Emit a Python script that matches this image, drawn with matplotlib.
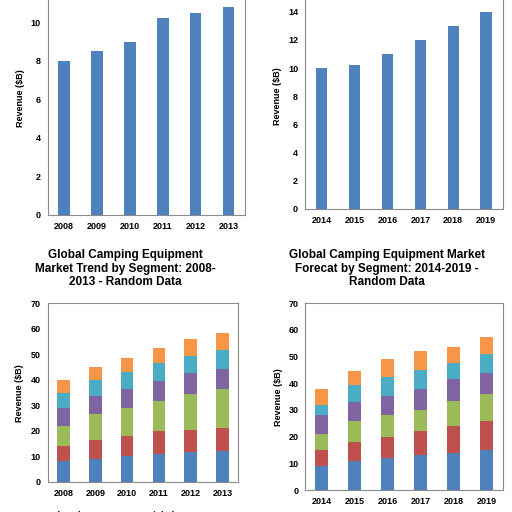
import matplotlib
matplotlib.use("Agg")
import matplotlib.pyplot as plt
import numpy as np

plt.rcParams['font.family'] = ['Liberation Sans', 'DejaVu Sans']
plt.rcParams['font.weight'] = 'bold'

# data
years_hist = ["2008", "2009", "2010", "2011", "2012", "2013"]
years_fc = ["2014", "2015", "2016", "2017", "2018", "2019"]
total_hist = [8.0, 8.5, 9.0, 10.2, 10.5, 10.8]
total_fc = [10.0, 10.2, 11.0, 12.0, 13.0, 14.0]

segments = ["Backpack", "Tent/Shelter", "Sleeping Bag", "Furniture", "Cooking", "Other"]
colors = ["#4F81BD", "#C0504D", "#9BBB59", "#8064A2", "#4BACC6", "#F79646"]

seg_hist = [
    [8.0, 9.0, 10.0, 11.0, 11.5, 12.0],
    [6.0, 7.5, 8.0, 8.7, 8.9, 9.2],
    [8.0, 10.0, 11.0, 12.0, 14.0, 15.0],
    [7.0, 7.0, 7.5, 7.8, 8.1, 8.1],
    [6.0, 6.5, 6.5, 6.9, 6.9, 7.4],
    [5.0, 5.0, 5.5, 5.9, 6.5, 6.5],
]
seg_fc = [
    [9.0, 11.0, 12.0, 13.0, 14.0, 15.0],
    [6.0, 7.0, 8.0, 9.0, 10.0, 11.0],
    [6.0, 8.0, 8.0, 8.0, 9.5, 10.0],
    [7.0, 7.0, 7.2, 8.0, 8.0, 8.0],
    [4.0, 6.5, 7.2, 7.0, 6.0, 7.0],
    [6.0, 5.2, 6.6, 7.0, 6.0, 6.4],
]

W = H = 512
fig = plt.figure(figsize=(5.12, 5.12), dpi=100)


def px_axes(left, right, top, bottom):
    return fig.add_axes([left / W, 1 - bottom / H, (right - left) / W, (bottom - top) / H])


def style(ax, ymax, tickmax, step):
    # top of the upper charts runs off the picture, so their last tick is left out
    ax.set_ylim(0, ymax)
    ax.set_yticks(np.arange(0, tickmax + 0.01, step))
    for s in ax.spines.values():
        s.set_color("#8a8a8a")
        s.set_linewidth(0.8)
    ax.tick_params(length=0, labelsize=6.5, pad=5)
    for lab in ax.get_xticklabels() + ax.get_yticklabels():
        lab.set_fontweight("bold")


x = np.arange(len(years_hist))

# top left
ax1 = px_axes(47.7, 245, -16.2, 215)
ax1.bar(x, total_hist, width=0.35, color=colors[0])
ax1.set_xlim(-0.5, 5.5)
ax1.set_xticks(x, years_hist)
style(ax1, 12, 10, 2)

# top right
ax2 = px_axes(305, 502.7, -16.5, 209)
ax2.bar(x, total_fc, width=0.35, color=colors[0])
ax2.set_xlim(-0.5, 5.5)
ax2.set_xticks(x, years_fc)
style(ax2, 16, 14, 2)

# bottom left stacked
ax3 = px_axes(47.7, 238.3, 303.3, 481.7)
bottom = np.zeros(len(years_hist))
for vals, c, name in zip(seg_hist, colors, segments):
    ax3.bar(x, vals, width=0.4, bottom=bottom, color=c, label=name)
    bottom += np.array(vals)
ax3.set_xlim(-0.5, 5.5)
ax3.set_xticks(x, years_hist)
style(ax3, 70, 70, 10)

# bottom right stacked
ax4 = px_axes(305.3, 503.3, 303.3, 490)
bottom = np.zeros(len(years_fc))
for vals, c in zip(seg_fc, colors):
    ax4.bar(x, vals, width=0.4, bottom=bottom, color=c)
    bottom += np.array(vals)
ax4.set_xlim(-0.5, 5.5)
ax4.set_xticks(x, years_fc)
style(ax4, 70, 70, 10)

# y labels
for xp, yp in [(20.7, 98), (277.7, 96), (20, 393), (278.3, 397)]:
    fig.text(xp / W, 1 - yp / H, "Revenue ($B)", rotation=90, ha="center", va="center",
             fontsize=6.5, fontweight="bold")

# titles
fig.text(125.5 / W, 1 - 268.7 / H,
         "Global Camping Equipment\nMarket Trend by Segment: 2008-\n2013 - Random Data",
         ha="center", va="center", fontsize=8.5, fontweight="bold", linespacing=1.15)
fig.text(387 / W, 1 - 268.7 / H,
         "Global Camping Equipment Market\nForecat by Segment: 2014-2019 -\nRandom Data",
         ha="center", va="center", fontsize=8.5, fontweight="bold", linespacing=1.15)

# legend text, cut off at the bottom edge as in the reference
fig.text(41.7 / W, 1 - 510.5 / H, segments[0], ha="left", va="top", fontsize=6.5, fontweight="bold")
fig.text(135 / W, 1 - 510.5 / H, segments[1], ha="left", va="top", fontsize=6.5, fontweight="bold")

fig.savefig("out.png", dpi=100, facecolor="white")
